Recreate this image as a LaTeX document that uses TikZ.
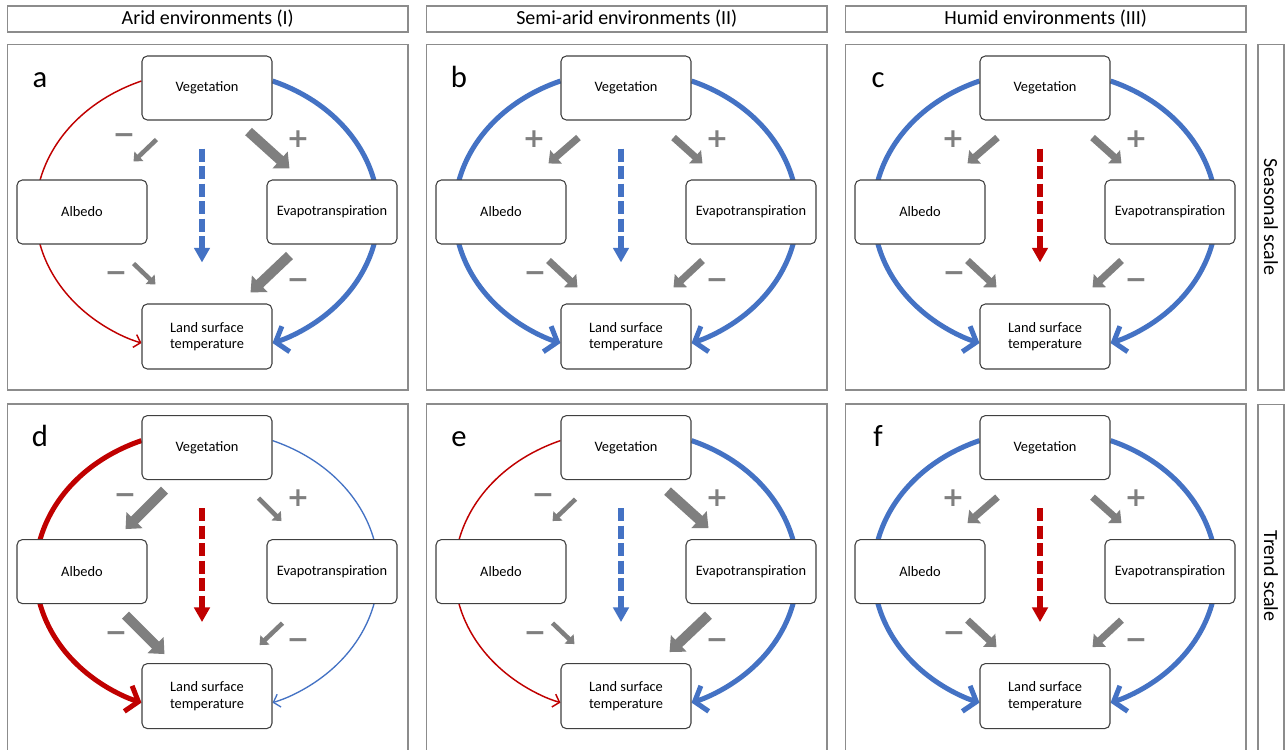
\documentclass[tikz,border=0pt]{standalone}
\usepackage{fontspec}
\setmainfont{Carlito}
\newfontfamily\signfont{DejaVu Sans}
\usetikzlibrary{arrows.meta,bending}
\pgfdeclarelayer{bg}
\pgfsetlayers{bg,main}
\definecolor{blu}{HTML}{4472C4}
\definecolor{rd}{HTML}{C00000}
\definecolor{gry}{HTML}{7F7F7F}
\definecolor{bx}{HTML}{404040}
\definecolor{frm}{HTML}{8C8C8C}
\tikzset{
  nbox/.style={draw=bx, line width=0.8pt, fill=white, rounded corners=4pt,
    minimum width=97.5pt, minimum height=48pt, inner sep=1pt, align=center,
    font=\fontsize{10.8}{12.5}\selectfont},
  pframe/.style={draw=frm, line width=1pt, minimum width=300.4pt, inner sep=0pt},
  hdr/.style={draw=frm, line width=1pt, minimum width=300.4pt, minimum height=19.5pt,
    inner sep=0pt, font=\fontsize{15}{18}\selectfont},
  sidebox/.style={draw=frm, line width=1pt, minimum width=19.5pt, inner sep=0pt},
  sidetext/.style={rotate=-90, inner sep=0pt, font=\fontsize{15}{18}\selectfont},
  plabel/.style={font=\fontsize{23}{27}\selectfont, anchor=base, inner sep=0pt},
  thickblue/.style={draw=blu, line width=3.75pt, -{Straight Barb[length=8pt,width=20pt]}},
  thickred/.style={draw=rd, line width=3.75pt, -{Straight Barb[length=8pt,width=20pt]}},
  thinblue/.style={draw=blu, line width=1pt, -{Straight Barb[length=4.5pt,width=10pt]}},
  thinred/.style={draw=rd, line width=1.1pt, -{Straight Barb[length=4.5pt,width=10pt]}},
  sarr/.style={draw=gry, line width=3.4pt, -{Triangle[length=5.6pt,width=9.5pt]}},
  marr/.style={draw=gry, line width=5.25pt, -{Triangle[length=7.5pt,width=13pt]}},
  barr/.style={draw=gry, line width=7.5pt, -{Triangle[length=9.5pt,width=16.5pt]}},
  dsh/.style={line width=4pt, dash pattern=on 9.75pt off 3.4pt, -{Triangle[length=11pt,width=11.5pt]}},
  sgn/.style={text=gry, font=\signfont\bfseries\fontsize{20}{20}\selectfont, inner sep=0pt}
}
% panel: #1 dx, #2 dy, #3 suffix, #4 letter, #5 frame height, #6 UL sign, #7 UL sign x
\newcommand\mkpanel[7]{%
\begin{scope}[shift={(#1,#2)}]
  \node[pframe, minimum height=#5, anchor=north] (frame#3) at (207.75,43.8) {};
  \node[plabel] (let#3) at (40,87) {#4};
  \node[nbox] (veg#3) at (207,88) {Vegetation};
  \node[nbox] (alb#3) at (82,212) {Albedo};
  \node[nbox] (et#3) at (332,212) {Evapotranspiration};
  \node[nbox, minimum height=48.75pt] (lst#3) at (207,336.5) {Land surface\\temperature};
  \node[sgn] (sul#3) at (#7,139) {#6};
  \node[sgn] (sur#3) at (298,139) {+};
  \node[sgn] (sll#3) at (116,277) {−};
  \node[sgn] (slr#3) at (298,284) {−};
\end{scope}}
\newcommand\leftarc[2]{\begin{pgfonlayer}{bg}\draw[#2] ([yshift=5.25pt]veg#1.west)
  arc[start angle=112.4, end angle=240, x radius=128.25pt, y radius=106.5pt]
  to[out=-25.6, in=163] ([yshift=-4.9pt]lst#1.west);\end{pgfonlayer}}
\newcommand\rightarc[2]{\begin{pgfonlayer}{bg}\draw[#2] ([yshift=5.25pt]veg#1.east)
  arc[start angle=67.6, end angle=-60, x radius=128.25pt, y radius=106.5pt]
  to[out=205.6, in=17] ([yshift=-4.9pt]lst#1.east);\end{pgfonlayer}}
\newcommand\centerarr[2]{\draw[dsh, color=#2] ([shift={(-5,28)}]veg#1.south) -- ([shift={(-5,-41)}]lst#1.north);}
% gray arrows
\newcommand\VAs[1]{\draw[sarr] ([shift={(15,19)}]veg#1.south west) -- ([shift={(-14,-18)}]alb#1.north east);}
\newcommand\VAm[1]{\draw[marr] ([shift={(18,17)}]veg#1.south west) -- ([shift={(-18,-16)}]alb#1.north east);}
\newcommand\VAb[1]{\draw[barr] ([shift={(23,10)}]veg#1.south west) -- ([shift={(-22,-10)}]alb#1.north east);}
\newcommand\VEs[1]{\draw[sarr] ([shift={(-14,18)}]veg#1.south east) -- ([shift={(15,-18)}]et#1.north west);}
\newcommand\VEm[1]{\draw[marr] ([shift={(-18,17)}]veg#1.south east) -- ([shift={(17,-16)}]et#1.north west);}
\newcommand\VEb[1]{\draw[barr] ([shift={(-24,11)}]veg#1.south east) -- ([shift={(23,-11)}]et#1.north west);}
\newcommand\ALs[1]{\draw[sarr] ([shift={(-14,19)}]alb#1.south east) -- ([shift={(14,-19)}]lst#1.north west);}
\newcommand\ALm[1]{\draw[marr] ([shift={(-18,16)}]alb#1.south east) -- ([shift={(17,-16)}]lst#1.north west);}
\newcommand\ALb[1]{\draw[barr] ([shift={(-22,11)}]alb#1.south east) -- ([shift={(23,-9)}]lst#1.north west);}
\newcommand\ELs[1]{\draw[sarr] ([shift={(16,19)}]et#1.south west) -- ([shift={(-13,-18)}]lst#1.north east);}
\newcommand\ELm[1]{\draw[marr] ([shift={(17,16)}]et#1.south west) -- ([shift={(-18,-16)}]lst#1.north east);}
\newcommand\ELb[1]{\draw[barr] ([shift={(23,11)}]et#1.south west) -- ([shift={(-22,-11)}]lst#1.north east);}

\begin{document}
\begin{tikzpicture}[x=0.75pt, y=-0.75pt]
\useasboundingbox (0,0) rectangle (1287,749);
\clip (0,0) rectangle (1287,749);
\begin{pgfonlayer}{bg}
\fill[white] (0,0) rectangle (1287,749);
\end{pgfonlayer}
% headers
\node[hdr] (h1) at (207.75,19) {Arid environments (I)};
\node[hdr] (h2) at (626.75,19) {Semi-arid environments (II)};
\node[hdr] (h3) at (1045.75,19) {Humid environments (III)};
% side labels
\node[sidebox, minimum height=259.1pt, anchor=north] (sb1) at (1271,43.8) {};
\node[sidetext] (st1) at (1271,216.75) {Seasonal scale};
\node[sidebox, minimum height=270pt, anchor=north] (sb2) at (1271,403.5) {};
\node[sidetext] (st2) at (1271,576) {Trend scale};
% panels
\mkpanel{0}{0}{a}{a}{259.1pt}{−}{124}
\mkpanel{419}{0}{b}{b}{259.1pt}{+}{115}
\mkpanel{838}{0}{c}{c}{259.1pt}{+}{115}
\mkpanel{0}{359.6}{d}{d}{270pt}{−}{125}
\mkpanel{419}{359.6}{e}{e}{270pt}{−}{124}
\mkpanel{838}{359.6}{f}{f}{270pt}{+}{115}
% panel a
\leftarc{a}{thinred}\rightarc{a}{thickblue}
\VAs{a}\VEb{a}\ALs{a}\ELb{a}\centerarr{a}{blu}
% panel b
\leftarc{b}{thickblue}\rightarc{b}{thickblue}
\VAm{b}\VEm{b}\ALm{b}\ELm{b}\centerarr{b}{blu}
% panel c
\leftarc{c}{thickblue}\rightarc{c}{thickblue}
\VAm{c}\VEm{c}\ALm{c}\ELm{c}\centerarr{c}{rd}
% panel d
\leftarc{d}{thickred}\rightarc{d}{thinblue}
\VAb{d}\VEs{d}\ALb{d}\ELs{d}\centerarr{d}{rd}
% panel e
\leftarc{e}{thinred}\rightarc{e}{thickblue}
\VAs{e}\VEb{e}\ALs{e}\ELb{e}\centerarr{e}{blu}
% panel f
\leftarc{f}{thickblue}\rightarc{f}{thickblue}
\VAm{f}\VEm{f}\ALm{f}\ELm{f}\centerarr{f}{rd}
\end{tikzpicture}
\end{document}
